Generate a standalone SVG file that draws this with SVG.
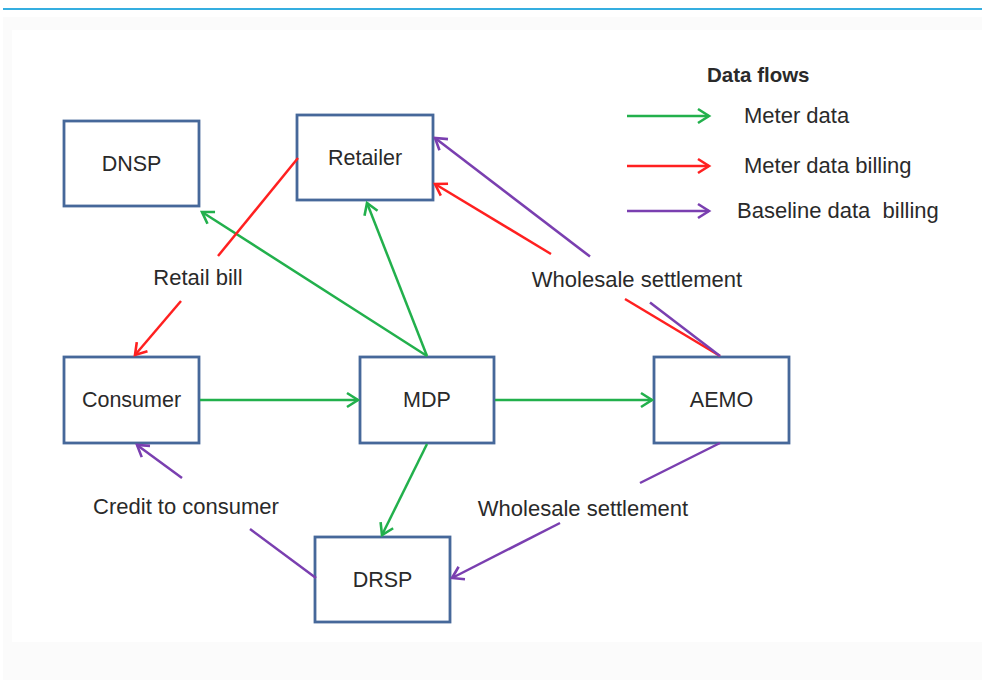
<svg xmlns="http://www.w3.org/2000/svg" width="982" height="680" viewBox="0 0 982 680">
<defs>
<style>
.bg{fill:#fbfbfb}
.panel{fill:#ffffff}
.box{fill:#ffffff;stroke:#46689a;stroke-width:2.8}
.t{font-family:"Liberation Sans",Arial,sans-serif;font-size:21.5px;fill:#2a2a2a}
.lg{font-size:22px}
.tc{text-anchor:middle}
.g{stroke:#22b04c;stroke-width:2.5;fill:none}
.r{stroke:#ff2020;stroke-width:2.5;fill:none}
.p{stroke:#7a3fb0;stroke-width:2.5;fill:none}
</style>
<marker id="ag" markerUnits="userSpaceOnUse" markerWidth="20" markerHeight="20" viewBox="-14 -10 20 20" refX="0" refY="0" orient="auto"><path d="M-11,-7 L0,0 L-11,7" fill="none" stroke="#22b04c" stroke-width="2.6"/></marker>
<marker id="ar" markerUnits="userSpaceOnUse" markerWidth="20" markerHeight="20" viewBox="-14 -10 20 20" refX="0" refY="0" orient="auto"><path d="M-11,-7 L0,0 L-11,7" fill="none" stroke="#ff2020" stroke-width="2.6"/></marker>
<marker id="ap" markerUnits="userSpaceOnUse" markerWidth="20" markerHeight="20" viewBox="-14 -10 20 20" refX="0" refY="0" orient="auto"><path d="M-11,-7 L0,0 L-11,7" fill="none" stroke="#7a3fb0" stroke-width="2.6"/></marker>
</defs>
<rect x="0" y="0" width="982" height="680" fill="#ffffff"/>
<rect class="bg" x="3" y="17" width="979" height="663"/>
<rect class="panel" x="12" y="30" width="970" height="612"/>
<line x1="3" y1="9" x2="982" y2="9" stroke="#35aee0" stroke-width="2"/>

<g id="nodes">
<g id="dnsp"><rect class="box" x="64" y="121" width="135" height="85"/><text class="t tc" x="131.5" y="171">DNSP</text></g>
<g id="retailer"><rect class="box" x="297" y="115" width="136" height="85"/><text class="t tc" x="365" y="165">Retailer</text></g>
<g id="consumer"><rect class="box" x="64" y="357" width="135" height="86"/><text class="t tc" x="131.5" y="407">Consumer</text></g>
<g id="mdp"><rect class="box" x="360" y="357" width="134" height="86"/><text class="t tc" x="427" y="407">MDP</text></g>
<g id="aemo"><rect class="box" x="654" y="357" width="135" height="86"/><text class="t tc" x="721.5" y="407">AEMO</text></g>
<g id="drsp"><rect class="box" x="315" y="537" width="135" height="85"/><text class="t tc" x="382.5" y="587">DRSP</text></g>
</g>

<g id="connectors">
<line class="g" x1="200" y1="400" x2="358" y2="400" marker-end="url(#ag)"/>
<line class="g" x1="495" y1="400" x2="652" y2="400" marker-end="url(#ag)"/>
<line class="g" x1="427" y1="356" x2="202" y2="212" marker-end="url(#ag)"/>
<line class="g" x1="427" y1="356" x2="367" y2="203" marker-end="url(#ag)"/>
<line class="g" x1="427" y1="444" x2="382" y2="535" marker-end="url(#ag)"/>

<line class="r" x1="298" y1="158" x2="218" y2="256"/>
<line class="r" x1="181" y1="301" x2="135" y2="355" marker-end="url(#ar)"/>
<line class="r" x1="720" y1="356" x2="625" y2="299"/>
<line class="r" x1="551" y1="254" x2="435" y2="184" marker-end="url(#ar)"/>

<line class="p" x1="720" y1="356" x2="650" y2="302.5"/>
<line class="p" x1="590" y1="256.6" x2="435" y2="138" marker-end="url(#ap)"/>
<line class="p" x1="316" y1="578" x2="250" y2="529"/>
<line class="p" x1="182" y1="478" x2="137" y2="445" marker-end="url(#ap)"/>
<line class="p" x1="720" y1="443" x2="640" y2="483"/>
<line class="p" x1="560" y1="523" x2="452" y2="578" marker-end="url(#ap)"/>
</g>

<g id="labels">
<text class="t tc lg" x="198" y="285">Retail bill</text>
<text class="t tc lg" x="637" y="287">Wholesale settlement</text>
<text class="t tc lg" x="186" y="514">Credit to consumer</text>
<text class="t tc lg" x="583" y="516">Wholesale settlement</text>
</g>

<g id="legend">
<text class="t" x="707" y="82" font-weight="bold" style="font-size:20.5px">Data flows</text>
<line class="g" x1="627" y1="116" x2="709" y2="116" marker-end="url(#ag)"/>
<text class="t lg" x="744" y="123">Meter data</text>
<line class="r" x1="627" y1="166" x2="709" y2="166" marker-end="url(#ar)"/>
<text class="t lg" x="744" y="173">Meter data billing</text>
<line class="p" x1="627" y1="211" x2="709" y2="211" marker-end="url(#ap)"/>
<text class="t lg" x="737" y="218" xml:space="preserve">Baseline data  billing</text>
</g>
</svg>
